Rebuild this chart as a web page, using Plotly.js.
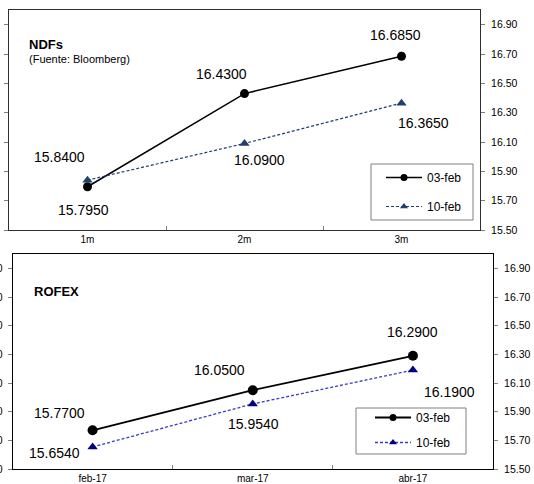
<!DOCTYPE html>
<html>
<head>
<meta charset="utf-8">
<script src="https://cdn.plot.ly/plotly-3.0.1.min.js"></script>
<style>html,body{margin:0;padding:0;background:#fff;}#chart{width:534px;height:484px;}</style>
</head>
<body>
<div id="chart"></div>
<script>
// ---- data ----
const ndfCategories = ['1m', '2m', '3m'];
const ndf03feb = [15.795, 16.43, 16.685];
const ndf10feb = [15.84, 16.09, 16.365];
const rofexCategories = ['feb-17', 'mar-17', 'abr-17'];
const rofex03feb = [15.77, 16.05, 16.29];
const rofex10feb = [15.654, 15.954, 16.19];
const seriesNames = ['03-feb', '10-feb'];
const panelTitles = ['NDFs', 'ROFEX'];
const sourceNote = '(Fuente: Bloomberg)';

// ---- label offsets (px, right / down) ----
const ndf03Off = [[-4.5, 23.5], [-23, -20], [-6.5, -21.6]];
const ndf10Off = [[-28, -23], [15, 17], [22, 19.5]];
const rofex03Off = [[-33.5, -17.5], [-33.5, -20], [0, -24]];
const rofex10Off = [[-38, 6], [1, 20.5], [36.5, 21.5]];

const W = 534, H = 484;
const px = v => v / W;
const py = v => 1 - v / H;
const FONT = 'Arial, "Liberation Sans", sans-serif';

const styles = {
  ndf03: {line: {color: '#000000', width: 1.5}, marker: {symbol: 'circle', color: '#000000'}, size: 9},
  ndf10: {line: {color: '#1F3F6F', width: 1.2, dash: '3px,2px'}, marker: {symbol: 'triangle-up', color: '#1F3F6F'}, size: 9},
  rof03: {line: {color: '#000000', width: 1.8}, marker: {symbol: 'circle', color: '#000000'}, size: 10},
  rof10: {line: {color: '#3A3AC8', width: 1.3, dash: '3px,2px'}, marker: {symbol: 'triangle-up', color: '#000080'}, size: 9}
};

function series(cats, vals, name, st, xa, ya, leg, grp) {
  return [
    {x: cats, y: vals, name: name, xaxis: xa, yaxis: ya, mode: 'lines+markers', line: st.line,
     marker: Object.assign({size: st.size}, st.marker), showlegend: false, legendgroup: grp},
    // legend entry of the same series, drawn with the smaller legend marker (no visible point)
    {x: [cats[0]], y: [null], name: name, xaxis: xa, yaxis: ya, mode: 'lines+markers', line: st.line,
     marker: Object.assign({size: 7}, st.marker), legend: leg, legendgroup: grp, showlegend: true}
  ];
}

const traces = [].concat(
  series(ndfCategories, ndf03feb, seriesNames[0], styles.ndf03, 'x', 'y', 'legend', 'a'),
  series(ndfCategories, ndf10feb, seriesNames[1], styles.ndf10, 'x', 'y', 'legend', 'b'),
  series(rofexCategories, rofex03feb, seriesNames[0], styles.rof03, 'x2', 'y2', 'legend2', 'c'),
  series(rofexCategories, rofex10feb, seriesNames[1], styles.rof10, 'x2', 'y2', 'legend2', 'd')
);

function labels(cats, vals, offs, xr, yr) {
  return vals.map((v, i) => ({
    x: cats[i], y: v, xref: xr, yref: yr, text: v.toFixed(4), showarrow: false,
    xshift: offs[i][0], yshift: -offs[i][1], font: {family: FONT, size: 14, color: '#000'}
  }));
}

const annotations = [].concat(
  labels(ndfCategories, ndf03feb, ndf03Off, 'x', 'y'),
  labels(ndfCategories, ndf10feb, ndf10Off, 'x', 'y'),
  labels(rofexCategories, rofex03feb, rofex03Off, 'x2', 'y2'),
  labels(rofexCategories, rofex10feb, rofex10Off, 'x2', 'y2'),
  [
    {text: '<b>' + panelTitles[0] + '</b>', xref: 'paper', yref: 'paper', x: px(27), y: py(45), xanchor: 'left', yanchor: 'middle',
     showarrow: false, font: {family: FONT, size: 13, color: '#000'}},
    {text: sourceNote, xref: 'paper', yref: 'paper', x: px(27), y: py(58.5), xanchor: 'left', yanchor: 'middle',
     showarrow: false, font: {family: FONT, size: 11, color: '#000'}},
    {text: '<b>' + panelTitles[1] + '</b>', xref: 'paper', yref: 'paper', x: px(32), y: py(291), xanchor: 'left', yanchor: 'middle',
     showarrow: false, font: {family: FONT, size: 13, color: '#000'}}
  ]
);

const xCommon = {
  type: 'category', range: [-0.5, 2.5], showgrid: false, zeroline: false,
  showline: true, mirror: true, ticks: 'inside', ticklen: 4, tickson: 'boundaries',
  tickcolor: '#808080', tickfont: {family: FONT, size: 10, color: '#000'}, fixedrange: true
};
const yCommon = {
  range: [15.5, 17.0], tick0: 15.5, dtick: 0.2, tickformat: '.2f', showgrid: false, zeroline: false,
  showline: true, side: 'right', mirror: 'allticks', ticks: 'outside', ticklen: 4, tickcolor: '#808080',
  ticklabelstandoff: 4, tickfont: {family: FONT, size: 10.5, color: '#000'}
};

const legendCommon = {
  bgcolor: 'rgba(0,0,0,0)', borderwidth: 0, traceorder: 'grouped', itemwidth: 36,
  font: {family: FONT, size: 12, color: '#000'}, xanchor: 'left', yanchor: 'top'
};

// legend frames
const shapes = [
  {type: 'rect', xref: 'paper', yref: 'paper', x0: px(371), x1: px(473), y0: py(220), y1: py(164),
   line: {color: '#808080', width: 1}, fillcolor: '#ffffff', layer: 'below'},
  {type: 'rect', xref: 'paper', yref: 'paper', x0: px(356), x1: px(466), y0: py(454), y1: py(408),
   line: {color: '#808080', width: 1}, fillcolor: '#ffffff', layer: 'below'}
];

const layout = {
  width: W, height: H, margin: {l: 0, r: 0, t: 0, b: 0}, paper_bgcolor: '#fff', plot_bgcolor: '#fff',
  showlegend: true, font: {family: FONT},
  xaxis: Object.assign({}, xCommon, {domain: [px(9), px(480)], anchor: 'y', linecolor: '#303030',
    categoryarray: ndfCategories, categoryorder: 'array'}),
  yaxis: Object.assign({}, yCommon, {domain: [py(230), py(10)], anchor: 'x', linecolor: '#303030'}),
  xaxis2: Object.assign({}, xCommon, {domain: [px(12.5), px(493)], anchor: 'y2', linecolor: '#000',
    categoryarray: rofexCategories, categoryorder: 'array'}),
  yaxis2: Object.assign({}, yCommon, {domain: [py(469), py(254)], anchor: 'x2', linecolor: '#000'}),
  yaxis3: Object.assign({}, yCommon, {overlaying: 'y2', anchor: 'x2', side: 'left', mirror: false, showline: false,
    ticks: '', ticklabelstandoff: 9}),
  legend: Object.assign({}, legendCommon, {x: px(381), y: py(163), tracegroupgap: 10}),
  legend2: Object.assign({}, legendCommon, {x: px(370), y: py(403), tracegroupgap: 6}),
  shapes: shapes,
  annotations: annotations
};

// an invisible trace keeps the left axis of the lower panel alive
traces.push({x: rofexCategories, y: rofex03feb, xaxis: 'x2', yaxis: 'y3', mode: 'lines', line: {width: 0},
  hoverinfo: 'skip', showlegend: false, opacity: 0});

Plotly.newPlot('chart', traces, layout, {staticPlot: true});
</script>
</body>
</html>
